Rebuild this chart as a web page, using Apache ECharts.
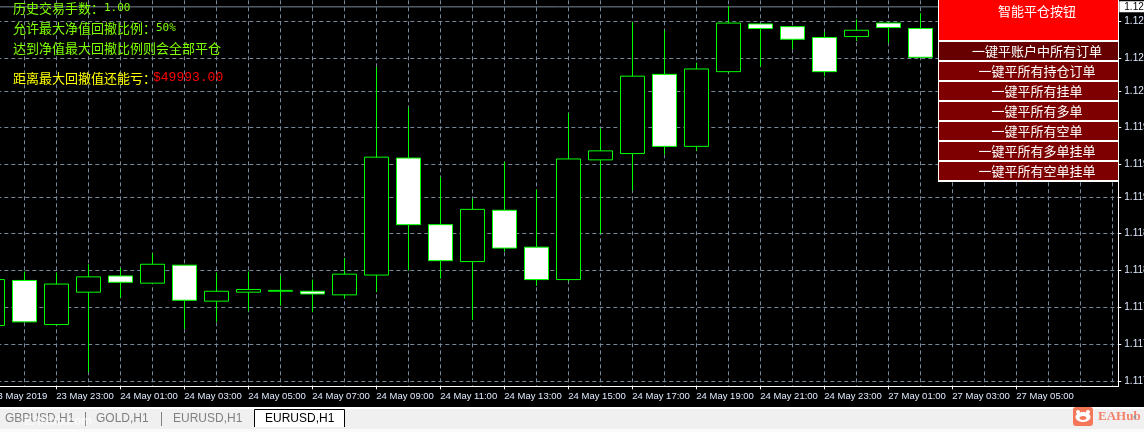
<!DOCTYPE html>
<html><head><meta charset="utf-8">
<style>html,body{margin:0;padding:0;background:#000}#c{width:1144px;height:432px}</style>
<script src="https://cdn.jsdelivr.net/npm/echarts@6/dist/echarts.min.js"></script>
</head><body><div id="c"></div>
<script>
const opens  = [1.11762,1.11812,1.11763,1.11799,1.11817,1.11809,1.11829,1.11789,1.11799,1.11800,1.11800,1.11796,1.11818,1.11948,1.11874,1.11833,1.11890,1.11849,1.11813,1.11946,1.11953,1.12041,1.11961,1.12044,1.12097,1.12094,1.12082,1.12083,1.12098,1.12092];
const closes = [1.11813,1.11766,1.11808,1.11816,1.11810,1.11830,1.11790,1.11800,1.11802,1.11801,1.11797,1.11819,1.11949,1.11874,1.11834,1.11891,1.11848,1.11813,1.11947,1.11956,1.12039,1.11961,1.12047,1.12098,1.12092,1.12080,1.12044,1.12090,1.12093,1.12060];
const lows   = [1.11757,1.11766,1.11763,1.11710,1.11793,1.11809,1.11758,1.11766,1.11778,1.11784,1.11777,1.11792,1.11799,1.11823,1.11814,1.11768,1.11844,1.11806,1.11811,1.11864,1.11912,1.11952,1.11956,1.12043,1.12050,1.12069,1.12039,1.12078,1.12076,1.12060];
const highs  = [1.11818,1.11822,1.11821,1.11830,1.11826,1.11842,1.11829,1.11821,1.11822,1.11817,1.11813,1.11837,1.12049,1.12004,1.11927,1.11903,1.11944,1.11913,1.11998,1.11981,1.12099,1.12090,1.12054,1.12117,1.12097,1.12094,1.12088,1.12102,1.12099,1.12109];
const priceTicks = [1.11700,1.11741,1.11782,1.11823,1.11864,1.11904,1.11941,1.11982,1.12022,1.12059,1.12100];
const lastPrice = 1.12116;
const timeLabels = ['23 May 2019','23 May 23:00','24 May 01:00','24 May 03:00','24 May 05:00','24 May 07:00','24 May 09:00','24 May 11:00','24 May 13:00','24 May 15:00','24 May 17:00','24 May 19:00','24 May 21:00','24 May 23:00','27 May 01:00','27 May 03:00','27 May 05:00'];
const panelTitle = '智能平仓按钮';
const panelRows = ['一键平账户中所有订单','一键平所有持仓订单','一键平所有挂单','一键平所有多单','一键平所有空单','一键平所有多单挂单','一键平所有空单挂单'];
const tabs = [['GBPUSD,H1',5],['GOLD,H1',96],['EURUSD,H1',173]];

const GRID='#778899', LIME='#00ff00', CJK='"Noto Sans CJK SC","DejaVu Sans",sans-serif', UI='"Liberation Sans",sans-serif';
const bars = opens.map((o,i)=>[i,o,closes[i],lows[i],highs[i]]);
const labelIdx = timeLabels.map((_,i)=>i*2);
const gridIdx = Array.from({length:35},(_,i)=>i+1);
const xMin=-0.5, xMax=35.1875;
const xBase={type:'value',min:xMin,max:xMax,position:'bottom'};

const txt=(x,y,s,fill,size,extra)=>({type:'text',z:100,x,y,style:Object.assign({text:s,fill,font:size+'px '+CJK,textVerticalAlign:'middle'},extra||{})});
const g=[];
// tab strip
g.push({type:'rect',z:50,shape:{x:0,y:407,width:1144,height:2},style:{fill:'#ffffff'}});
g.push({type:'rect',z:50,shape:{x:0,y:409,width:1144,height:20},style:{fill:'#f0f0f0'}});
g.push({type:'rect',z:50,shape:{x:0,y:429,width:1144,height:3},style:{fill:'#fbfbfb'}});
g.push({type:'rect',z:51,shape:{x:85,y:412,width:1,height:14},style:{fill:'#808080'}});
g.push({type:'rect',z:51,shape:{x:161,y:412,width:1,height:14},style:{fill:'#808080'}});
g.push({type:'rect',z:51,shape:{x:254,y:409,width:91,height:18},style:{fill:'#ffffff'}});
g.push({type:'polyline',z:52,shape:{points:[[254.5,427],[254.5,409.5],[344.5,409.5],[344.5,427]]},style:{stroke:'#000000',lineWidth:1,fill:null}});
tabs.forEach(t=>g.push({type:'text',z:52,x:t[1],y:419,style:{text:t[0],fill:'#808080',font:'12px '+UI,textVerticalAlign:'middle'}}));
g.push({type:'text',z:53,x:24,y:422,style:{text:'EAHub.com',fill:'rgba(255,255,255,0.6)',font:'bold 12px '+UI,textVerticalAlign:'middle'}});
g.push({type:'text',z:52,x:265,y:419,style:{text:'EURUSD,H1',fill:'#000000',font:'12px '+UI,textVerticalAlign:'middle'}});
// watermark
g.push({type:'rect',z:60,shape:{x:1073,y:407,width:20,height:19,r:3},style:{fill:'#f4775a'}});
g.push({type:'circle',z:61,shape:{cx:1078,cy:412,r:2},style:{fill:'#ffffff'}});
g.push({type:'circle',z:61,shape:{cx:1088,cy:412,r:2},style:{fill:'#ffffff'}});
g.push({type:'ellipse',z:61,shape:{cx:1083,cy:417,rx:7.5,ry:5},style:{fill:'#ffffff'}});
g.push({type:'ellipse',z:62,shape:{cx:1083,cy:418,rx:3.5,ry:2},style:{fill:'#f4775a'}});
g.push({type:'text',z:61,x:1098,y:417,style:{text:'EAHub',fill:'#f4816b',font:'bold 13px "Liberation Serif",serif',textVerticalAlign:'middle'}});
g.push({type:'polygon',z:61,shape:{points:[[1136,414],[1133,417],[1136,420]]},style:{fill:'#999999'}});
// panel
g.push({type:'rect',z:90,shape:{x:938,y:0,width:181,height:182},style:{fill:'#ffffff'}});
g.push({type:'rect',z:91,shape:{x:939,y:0,width:179,height:40},style:{fill:'#ff0000'}});
panelRows.forEach((s,i)=>{
  g.push({type:'rect',z:91,shape:{x:939,y:42+20*i,width:179,height:18},style:{fill:i===0?'#660000':'#7f0000'}});
  g.push(txt(1037,51+20*i,s,'#ffffff',13,{textAlign:'center'}));
});
g.push(txt(1037,11,panelTitle,'#ffffff',13,{textAlign:'center'}));
// info text
const MONO='"DejaVu Sans Mono",monospace';
g.push(txt(13,8,'历史交易手数：','#7fff00',13));
g.push(txt(104,8,'1.00','#7fff00',11,{font:'11px '+MONO}));
g.push(txt(13,28,'允许最大净值回撤比例：','#7fff00',13));
g.push(txt(156,28,'50%','#7fff00',11,{font:'11px '+MONO}));
g.push(txt(13,48,'达到净值最大回撤比例则会全部平仓','#7fff00',13));
g.push(txt(13,78,'距离最大回撤值还能亏：','#ffff00',13));
g.push(txt(153,78,'$49993.00','#ff0000',13,{font:'13px "Liberation Mono",monospace'}));

const chart=echarts.init(document.getElementById('c'),null,{renderer:'canvas'});
chart.setOption({
  animation:false,backgroundColor:'#000000',
  grid:{left:-23.7,top:0.3,width:1142,height:386,outerBoundsMode:'none',containLabel:false},
  xAxis:[
    Object.assign({},xBase,{
      axisLine:{show:true,onZero:false,lineStyle:{color:'#ffffff',width:1}},
      axisTick:{show:true,length:3,customValues:labelIdx,lineStyle:{color:'#ffffff'}},
      axisLabel:{show:true,customValues:labelIdx,align:'left',margin:5,color:'#dfeaff',fontFamily:'"Liberation Sans"',fontSize:9.5,
        hideOverlap:false,showMinLabel:true,showMaxLabel:true,formatter:v=>timeLabels[Math.round(v/2)]||''},
      splitLine:{show:false}
    }),
    Object.assign({},xBase,{
      axisLine:{show:false},axisLabel:{show:false},
      axisTick:{show:false,customValues:gridIdx},
      splitLine:{show:true,lineStyle:{color:GRID,width:1,type:[4,3]}}
    })
  ],
  yAxis:{type:'value',position:'right',min:1.116944,max:1.121233,scale:true,
    axisLine:{show:true,onZero:false,lineStyle:{color:'#ffffff',width:1}},
    axisTick:{show:true,length:3,customValues:priceTicks,lineStyle:{color:'#ffffff'}},
    axisLabel:{show:true,customValues:priceTicks,margin:6,color:'#dfeaff',fontFamily:'"Liberation Sans"',fontSize:10,formatter:v=>v.toFixed(5)},
    splitLine:{show:true,lineStyle:{color:GRID,width:1,type:[4,3]}}
  },
  series:[
  {type:'line',xAxisIndex:0,yAxisIndex:0,showSymbol:false,silent:true,z:1,
    data:[[xMin,lastPrice],[xMax,lastPrice]],lineStyle:{color:GRID,width:1,type:'solid'},
    endLabel:{show:true,distance:1,formatter:()=>lastPrice.toFixed(5),color:'#000',backgroundColor:'#fff',fontFamily:'"Liberation Sans"',fontSize:10,padding:[0,4,0,5],lineHeight:11}
  },
  {
    type:'candlestick',xAxisIndex:0,yAxisIndex:0,barWidth:24,z:2,
    encode:{x:0,y:[1,2,3,4]},data:bars,
    itemStyle:{color:'#000000',color0:'#ffffff',borderColor:LIME,borderColor0:LIME,borderWidth:1}
  }],
  graphic:{elements:g}
});
</script></body></html>
